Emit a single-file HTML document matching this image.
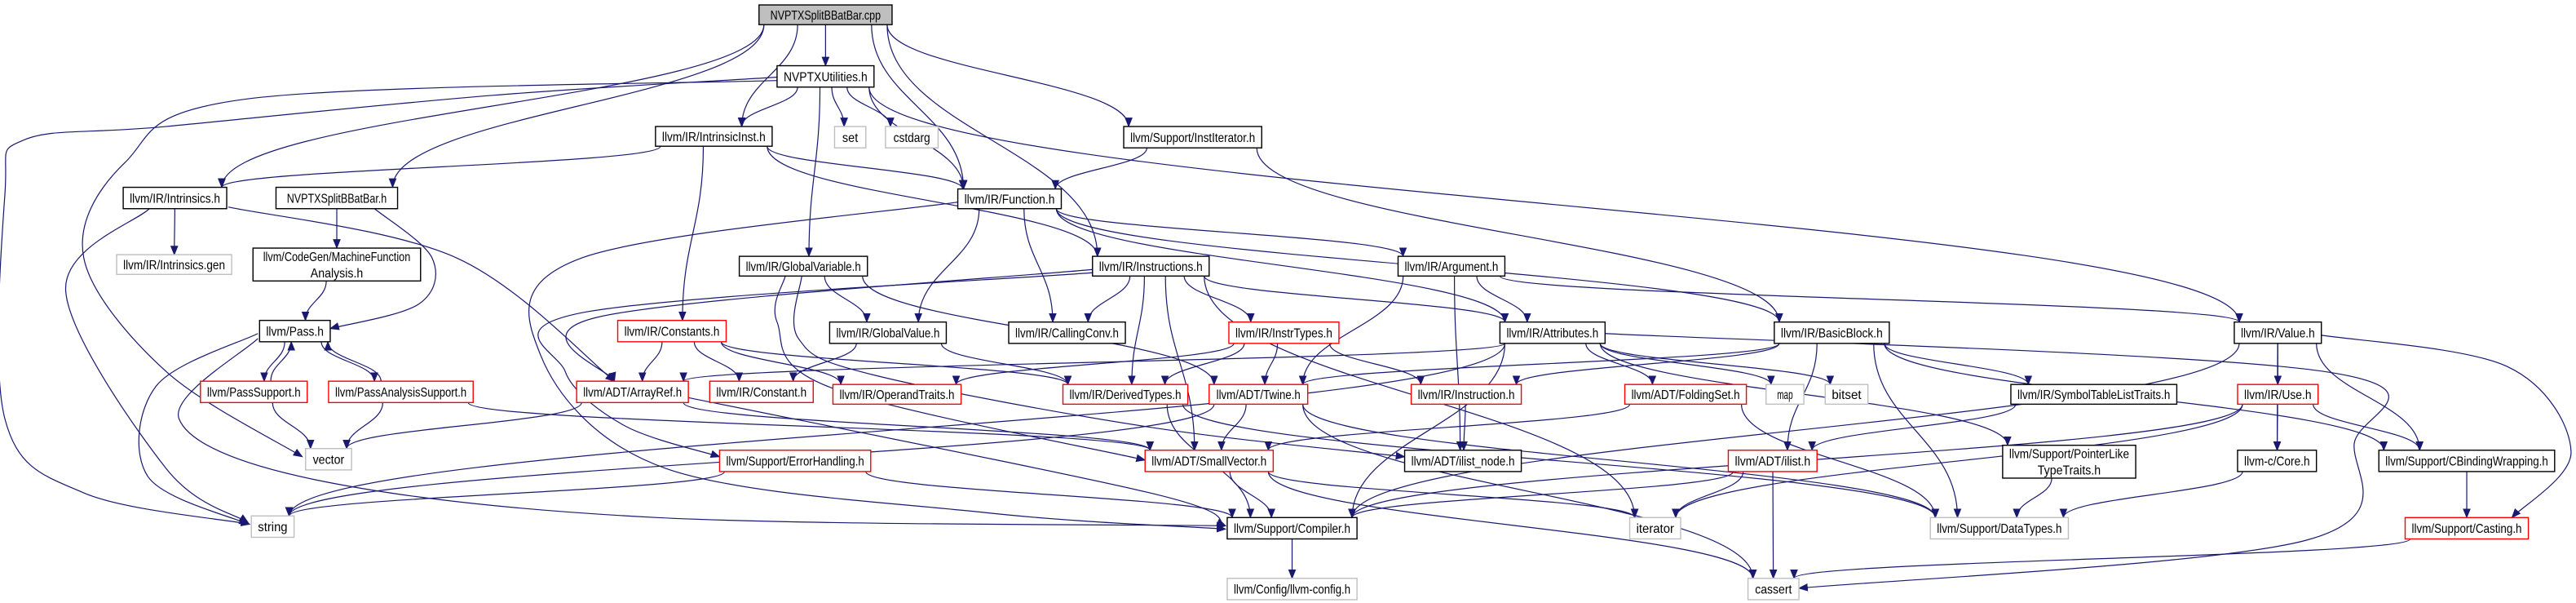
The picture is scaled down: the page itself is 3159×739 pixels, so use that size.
<!DOCTYPE html>
<html><head><meta charset="utf-8"><title>NVPTXSplitBBatBar.cpp include graph</title>
<style>
html,body{margin:0;padding:0;background:#fff;}
svg{display:block;}
text{font-family:"Liberation Sans",sans-serif;font-size:8px;fill:#000;}
</style></head>
<body>
<svg id="g" xmlns="http://www.w3.org/2000/svg" width="3159" height="739" viewBox="0 0 1568 367" preserveAspectRatio="none">
<defs>
<marker id="ah" viewBox="0 0 10 10" refX="9" refY="5" markerWidth="6" markerHeight="6" markerUnits="userSpaceOnUse" orient="auto">
<path d="M0,1 L10,5 L0,9 z" fill="#191970"/>
</marker>
</defs>
<g id="edges"></g>
<g id="nodes"></g>
</svg>
<script>
const nodeIds = ["cpp","util","set","cstdarg","iinst","institer","intr","splith","func","intrgen","mfa","gvar","insts","arg","value","pass","consts","gval","cconv","itypes","attrs","bb","psup","pas","aref","const","optr","dtypes","twine","instr","fset","map","bitset","stlt","use","vector","errh","svec","ilnode","plt","ilist","core","cbw","string","compiler","iterator","datatypes","casting","config","cassert"];
const nodeLabels = {
cpp:["NVPTXSplitBBatBar.cpp"],util:["NVPTXUtilities.h"],set:["set"],cstdarg:["cstdarg"],iinst:["llvm/IR/IntrinsicInst.h"],institer:["llvm/Support/InstIterator.h"],
intr:["llvm/IR/Intrinsics.h"],splith:["NVPTXSplitBBatBar.h"],func:["llvm/IR/Function.h"],intrgen:["llvm/IR/Intrinsics.gen"],mfa:["llvm/CodeGen/MachineFunction","Analysis.h"],
gvar:["llvm/IR/GlobalVariable.h"],insts:["llvm/IR/Instructions.h"],arg:["llvm/IR/Argument.h"],value:["llvm/IR/Value.h"],pass:["llvm/Pass.h"],consts:["llvm/IR/Constants.h"],
gval:["llvm/IR/GlobalValue.h"],cconv:["llvm/IR/CallingConv.h"],itypes:["llvm/IR/InstrTypes.h"],attrs:["llvm/IR/Attributes.h"],bb:["llvm/IR/BasicBlock.h"],
psup:["llvm/PassSupport.h"],pas:["llvm/PassAnalysisSupport.h"],aref:["llvm/ADT/ArrayRef.h"],const:["llvm/IR/Constant.h"],optr:["llvm/IR/OperandTraits.h"],
dtypes:["llvm/IR/DerivedTypes.h"],twine:["llvm/ADT/Twine.h"],instr:["llvm/IR/Instruction.h"],fset:["llvm/ADT/FoldingSet.h"],map:["map"],bitset:["bitset"],
stlt:["llvm/IR/SymbolTableListTraits.h"],use:["llvm/IR/Use.h"],vector:["vector"],errh:["llvm/Support/ErrorHandling.h"],svec:["llvm/ADT/SmallVector.h"],
ilnode:["llvm/ADT/ilist_node.h"],plt:["llvm/Support/PointerLike","TypeTraits.h"],ilist:["llvm/ADT/ilist.h"],core:["llvm-c/Core.h"],cbw:["llvm/Support/CBindingWrapping.h"],
string:["string"],compiler:["llvm/Support/Compiler.h"],iterator:["iterator"],datatypes:["llvm/Support/DataTypes.h"],casting:["llvm/Support/Casting.h"],
config:["llvm/Config/llvm-config.h"],cassert:["cassert"]};
const nodeBoxes = {
cpp:[462,3,543,15,"r"],util:[473,40,532,53,"n"],set:[508,77,527,90,"s"],cstdarg:[539,77,571,90,"s"],iinst:[399,77,470,89,"n"],institer:[684,77,768,90,"n"],
intr:[75,114,138,127,"n"],splith:[168,114,242,127,"n"],func:[583,115,646,127,"n"],intrgen:[71,155,141,167,"s"],mfa:[154,151,256,171,"n"],
gvar:[450,156,528,168,"n"],insts:[665,156,736,168,"n"],arg:[851,156,916,168,"n"],value:[1360,196,1413,209,"n"],
pass:[158,195,201,208,"n"],consts:[376,195,442,208,"x"],gval:[505,196,576,209,"n"],cconv:[614,196,685,209,"n"],itypes:[748,196,815,209,"x"],
attrs:[913,196,977,209,"n"],bb:[1080,196,1150,209,"n"],
psup:[122,232,187,245,"x"],pas:[200,232,288,245,"x"],aref:[351,232,419,245,"x"],const:[432,232,495,245,"x"],optr:[507,234,585,246,"x"],
dtypes:[647,234,723,246,"x"],twine:[736,234,796,246,"x"],instr:[859,234,926,246,"x"],fset:[989,234,1063,246,"x"],map:[1075,234,1098,246,"s"],
bitset:[1111,234,1137,246,"s"],stlt:[1224,234,1325,246,"n"],use:[1362,234,1411,246,"x"],
vector:[186,273,214,286,"s"],errh:[438,274,530,287,"x"],svec:[697,274,775,287,"x"],ilnode:[855,274,926,287,"n"],plt:[1219,271,1300,291,"n"],
ilist:[1052,274,1106,287,"x"],core:[1362,274,1410,287,"n"],cbw:[1448,274,1555,287,"n"],
string:[153,314,179,327,"s"],compiler:[747,315,826,328,"n"],iterator:[992,315,1023,328,"s"],datatypes:[1175,315,1259,328,"s"],casting:[1464,315,1539,328,"x"],
config:[747,352,826,365,"s"],cassert:[1064,352,1095,365,"s"]};
const edgeFrom = ["cpp","cpp","cpp","cpp","cpp","cpp","cpp",
"util","util","util","util","util","util","util","util",
"iinst","iinst","iinst","iinst","institer","institer",
"intr","intr","intr","splith","splith","mfa",
"func","func","func","func","func","func",
"gvar","gvar","gvar","gvar",
"insts","insts","insts","insts","insts","insts","insts","insts",
"arg","arg","arg","arg",
"value","value","value","value","value",
"pass","pass","pass","pass","psup","psup","pas","pas","pas",
"consts","consts","consts","consts","gval","gval",
"itypes","itypes","itypes","itypes",
"attrs","attrs","attrs","attrs","attrs","attrs","attrs","attrs",
"bb","bb","bb","bb","bb","bb",
"aref","aref","aref","dtypes","dtypes","twine","twine","twine","twine",
"instr","fset","fset","stlt","use","use","use","use",
"errh","errh","svec","svec","svec","ilist","ilist","ilist","plt","core","cbw","casting","compiler"];
const edgeTo = ["util","iinst","intr","splith","func","insts","institer",
"iinst","set","cstdarg","func","gvar","value","string","vector",
"intr","func","insts","consts","func","bb",
"intrgen","string","aref","mfa","pass","pass",
"compiler","gval","cconv","arg","attrs","bb",
"gval","twine","ilnode","svec",
"aref","cconv","itypes","attrs","dtypes","svec","errh","iterator",
"twine","attrs","ilnode","value",
"use","core","cbw","casting","compiler",
"psup","pas","string","compiler","pass","vector","pass","vector","svec",
"aref","const","optr","dtypes","const","dtypes",
"optr","dtypes","twine","instr",
"aref","fset","map","bitset","plt","compiler","string","cassert",
"twine","instr","stlt","ilist","cbw","datatypes",
"vector","svec","compiler","compiler","datatypes","string","svec","datatypes","cassert",
"ilnode","svec","datatypes","ilist","core","cbw","compiler","iterator",
"string","compiler","compiler","iterator","cassert","compiler","iterator","cassert","datatypes","datatypes","casting","cassert","config"];
// routing waypoints for long curved edges (layout, not data)
const edgeVia = {
"util>string":[[473,47],[300,58],[101,77],[15,85],[3,118],[3,255],[51,300],[152,319]],
"util>vector":[[473,49],[152,60],[76,99],[51,157],[101,226],[184,278]],
"intr>string":[[91,127],[40,177],[101,285],[151,318]],
"intr>aref":[[139,126],[278,157],[374,232]],
"splith>pass":[[228,127],[263,157],[255,185],[201,200]],
"pass>compiler":[[157,206],[109,255],[192,292],[400,315],[746,320]],
"pass>string":[[157,203],[95,235],[90,290],[151,319]],
"func>compiler":[[583,123],[354,157],[329,216],[405,285],[600,312],[746,322]],
"insts>aref":[[665,164],[364,193],[374,232]],
"insts>errh":[[665,166],[356,190],[344,226],[380,259],[438,278]],
"gvar>ilnode":[[488,168],[486,206],[531,228],[700,260],[855,278]],
"gvar>svec":[[478,168],[473,196],[506,236],[697,280]],
"attrs>cassert":[[977,203],[1414,226],[1433,270],[1403,329],[1095,358]],
"value>casting":[[1413,204],[1526,223],[1565,275],[1529,315]],
"aref>compiler":[[419,242],[700,300],[746,320]]
};

const SVGNS="http://www.w3.org/2000/svg";
const gE=document.getElementById("edges"), gN=document.getElementById("nodes");
function box(id){const b=nodeBoxes[id];return {x1:b[0],y1:b[1],x2:b[2],y2:b[3],cx:(b[0]+b[2])/2,cy:(b[1]+b[3])/2};}
const stroke={r:"#000",n:"#000",x:"#ff0000",s:"#bfbfbf"};
function crPath(pts){
  let d="M"+pts[0][0]+","+pts[0][1];
  for(let i=0;i<pts.length-1;i++){
    const p0=pts[i-1]||pts[i],p1=pts[i],p2=pts[i+1],p3=pts[i+2]||pts[i+1];
    const c1=[p1[0]+(p2[0]-p0[0])/6,p1[1]+(p2[1]-p0[1])/6];
    const c2=[p2[0]-(p3[0]-p1[0])/6,p2[1]-(p3[1]-p1[1])/6];
    d+=" C"+c1[0].toFixed(1)+","+c1[1].toFixed(1)+" "+c2[0].toFixed(1)+","+c2[1].toFixed(1)+" "+p2[0]+","+p2[1];
  }
  return d;
}
for(let i=0;i<edgeFrom.length;i++){
  const key=edgeFrom[i]+">"+edgeTo[i];
  let d;
  if(edgeVia[key]){ d=crPath(edgeVia[key]); }
  else{
  const a=box(edgeFrom[i]), b=box(edgeTo[i]);
  let sx,sy,tx,ty;
  const clamp=(v,lo,hi)=>Math.max(lo,Math.min(hi,v));
  if(b.cy>a.cy+5){
    sx=clamp(a.cx+(b.cx-a.cx)*0.25,a.x1+3,a.x2-3); sy=a.y2;
    tx=clamp(b.cx+(a.cx-b.cx)*0.25,b.x1+3,b.x2-3); ty=b.y1;
  } else if(b.cy<a.cy-5){
    sx=clamp(a.cx+(b.cx-a.cx)*0.25,a.x1+3,a.x2-3)+4; sy=a.y1;
    tx=clamp(b.cx+(a.cx-b.cx)*0.25,b.x1+3,b.x2-3)+4; ty=b.y2;
  } else {
    if(b.cx>a.cx){sx=a.x2;tx=b.x1;}else{sx=a.x1;tx=b.x2;}
    sy=a.cy;ty=b.cy;
  }
  const dy=ty-sy;
  d="M"+sx.toFixed(1)+","+sy.toFixed(1)+" C"+sx.toFixed(1)+","+(sy+dy*0.45).toFixed(1)+" "+tx.toFixed(1)+","+(ty-dy*0.45).toFixed(1)+" "+tx.toFixed(1)+","+ty.toFixed(1);
  }
  const p=document.createElementNS(SVGNS,"path");
  p.setAttribute("d",d);
  p.setAttribute("fill","none");
  p.setAttribute("stroke","#191970");
  p.setAttribute("stroke-width","0.6");
  p.setAttribute("marker-end","url(#ah)");
  
  
  gE.appendChild(p);
}

for(const id of nodeIds){
  const b=nodeBoxes[id], lines=nodeLabels[id];
  const g=document.createElementNS(SVGNS,"g");
  
  
  const r=document.createElementNS(SVGNS,"rect");
  r.setAttribute("x",b[0]);r.setAttribute("y",b[1]);
  r.setAttribute("width",b[2]-b[0]);r.setAttribute("height",b[3]-b[1]);
  r.setAttribute("fill",b[4]==="r"?"#bfbfbf":"#fff");
  r.setAttribute("stroke",stroke[b[4]]);
  r.setAttribute("stroke-width","0.7");
  
  
  g.appendChild(r);
  const h=b[3]-b[1], n=lines.length;
  lines.forEach((ln,k)=>{
    const t=document.createElementNS(SVGNS,"text");
    t.setAttribute("x",(b[0]+b[2])/2);
    const cy=b[1]+h*(k+0.5)/n;
    t.setAttribute("y",(cy+2.8).toFixed(1));
    t.setAttribute("text-anchor","middle");
    const w=(b[2]-b[0])-8;
    const est=ln.length*3.2;
    t.setAttribute("textLength",Math.min(w,est).toFixed(1));
    t.setAttribute("lengthAdjust","spacingAndGlyphs");
    
    
    t.textContent=ln;
    g.appendChild(t);
  });
  gN.appendChild(g);
}
</script>
</body></html>
